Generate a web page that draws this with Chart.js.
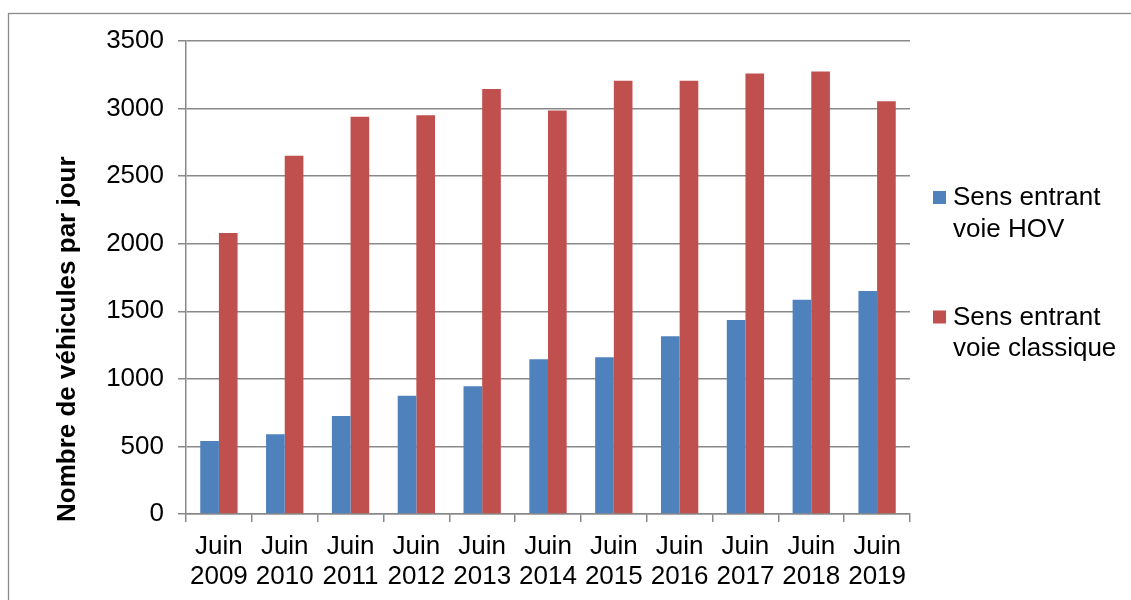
<!DOCTYPE html>
<html>
<head>
<meta charset="utf-8">
<script src="https://cdn.jsdelivr.net/npm/chart.js@4/dist/chart.umd.min.js"></script>
<style>
  html, body { margin: 0; padding: 0; background: #ffffff; }
  #wrap { position: relative; width: 1131px; height: 600px; }
</style>
</head>
<body>
<div id="wrap"><canvas id="c"></canvas></div>
<script>
// ---- data ----
const categories = [
  ["Juin", "2009"], ["Juin", "2010"], ["Juin", "2011"], ["Juin", "2012"],
  ["Juin", "2013"], ["Juin", "2014"], ["Juin", "2015"], ["Juin", "2016"],
  ["Juin", "2017"], ["Juin", "2018"], ["Juin", "2019"]
];
const hovValues = [540, 590, 725, 875, 945, 1145, 1160, 1315, 1435, 1585, 1650];
const classiqueValues = [2080, 2650, 2940, 2950, 3145, 2985, 3205, 3205, 3260, 3275, 3055];
const seriesNames = [["Sens entrant", "voie HOV"], ["Sens entrant", "voie classique"]];
const yTitle = "Nombre de véhicules par jour";
const yTicks = [0, 500, 1000, 1500, 2000, 2500, 3000, 3500];

const FONT = '"Liberation Sans", Arial, sans-serif';
const GRID = '#898989';
const colors = ['#4F81BD', '#C0504D'];

const framePlugin = {
  id: 'frame',
  beforeDraw(chart) {
    const ctx = chart.ctx;
    ctx.save();
    ctx.fillStyle = '#ffffff';
    ctx.fillRect(0, 0, chart.width, chart.height);
    ctx.strokeStyle = '#8a8a8a';
    ctx.lineWidth = 1.3;
    ctx.strokeRect(8.5, 13.5, chart.width + 20, chart.height + 20);
    ctx.restore();
  }
};

const titlePlugin = {
  id: 'yTitleCustom',
  afterDraw(chart) {
    const ctx = chart.ctx;
    const a = chart.chartArea;
    ctx.save();
    ctx.font = 'bold 26px ' + FONT;
    ctx.fillStyle = '#000000';
    ctx.translate(68, a.bottom + 8);
    ctx.rotate(-Math.PI / 2);
    ctx.textAlign = 'left';
    ctx.textBaseline = 'middle';
    ctx.fillText(yTitle, 0, 0);
    ctx.restore();
  }
};

const legendPlugin = {
  id: 'sideLegend',
  afterDraw(chart) {
    const ctx = chart.ctx;
    const a = chart.chartArea;
    const midY = (a.top + a.bottom) / 2;
    const firstBaseline = midY - 72.5;
    const lineGap = 31.5;
    const itemGap = 119.5;
    ctx.save();
    ctx.font = '26px ' + FONT;
    ctx.textAlign = 'left';
    ctx.textBaseline = 'alphabetic';
    chart.data.datasets.forEach((ds, i) => {
      const base = firstBaseline + i * itemGap;
      ctx.fillStyle = ds.backgroundColor;
      ctx.fillRect(a.right + 23, base - 14, 13, 13);
      ctx.fillStyle = '#000000';
      seriesNames[i].forEach((line, j) => {
        ctx.fillText(line, a.right + 43, base + j * lineGap);
      });
    });
    ctx.restore();
  }
};

new Chart(document.getElementById('c'), {
  type: 'bar',
  data: {
    labels: categories,
    datasets: [
      { label: seriesNames[0].join(' '), data: hovValues, backgroundColor: colors[0], borderWidth: 0 },
      { label: seriesNames[1].join(' '), data: classiqueValues, backgroundColor: colors[1], borderWidth: 0 }
    ]
  },
  plugins: [framePlugin, titlePlugin, legendPlugin],
  options: {
    responsive: true,
    maintainAspectRatio: false,
    animation: false,
    devicePixelRatio: 1,
    layout: { padding: { left: 40, right: 221, top: 41, bottom: 0 } },
    datasets: { bar: { categoryPercentage: 0.567, barPercentage: 1.0 } },
    plugins: {
      legend: { display: false },
      tooltip: { enabled: false }
    },
    scales: {
      x: {
        grid: { display: true, drawOnChartArea: false, drawTicks: true, tickLength: 8, color: GRID, lineWidth: 1.5 },
        border: { display: true, color: GRID, width: 1.5 },
        ticks: {
          color: '#000000',
          font: { family: FONT, size: 26, lineHeight: 1.15 },
          padding: 10,
          maxRotation: 0,
          autoSkip: false
        },
        afterFit(scale) { scale.height = 86; }
      },
      y: {
        min: 0,
        max: 3500,
        afterBuildTicks(scale) { scale.ticks = yTicks.map(v => ({ value: v })); },
        grid: { color: GRID, lineWidth: 1.5, drawTicks: true, tickLength: 8 },
        border: { display: true, color: GRID, width: 1.5 },
        ticks: {
          color: '#000000',
          font: { family: FONT, size: 26 },
          padding: 14,
          callback: (v) => String(v)
        },
        title: { display: false },
        afterFit(scale) { scale.width = 146; }
      }
    }
  }
});
</script>
</body>
</html>
